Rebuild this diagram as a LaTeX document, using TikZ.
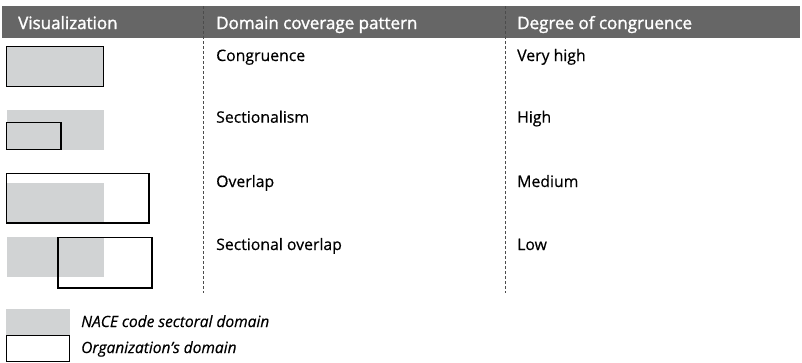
\documentclass[tikz,border=0pt]{standalone}
\usepackage{fontspec}
\setmainfont{Open Sans}[FakeBold=0.4]
\newfontfamily\hdrfont{Open Sans}[FakeBold=1.6]
\definecolor{domgray}{HTML}{D1D3D4}
\definecolor{headgray}{HTML}{666666}
\begin{document}
\begin{tikzpicture}[x=1pt,y=-1pt,
  hdr/.style={anchor=base west,inner sep=0pt,text=white,font=\hdrfont\fontsize{17}{20}\selectfont},
  txt/.style={anchor=base west,inner sep=0pt,font=\fontsize{15.8}{19}\selectfont},
  leg/.style={anchor=base west,inner sep=0pt,font=\fontsize{15.5}{19}\selectfont\itshape},
  org/.style={draw=black,line width=1.4pt},
  divider/.style={draw=black!70,densely dashed,line width=0.5pt}]
\useasboundingbox (0,0) rectangle (802,362);
% header
\fill[headgray] (2,6) rectangle (800,38);
\node[hdr] (h1) at (18,29) {Visualization};
\node[hdr] (h2) at (216,29) {Domain coverage pattern};
\node[hdr] (h3) at (517,29) {Degree of congruence};
% dividers
\coordinate (d1t) at (203,6); \coordinate (d1b) at (203,293);
\coordinate (d2t) at (505,6); \coordinate (d2b) at (505,293);
\draw[divider] (d1t) -- (d1b);
\draw[divider] (d2t) -- (d2b);
% row 1: congruence
\fill[domgray] (6,46) rectangle (104,87);
\draw[org] (6.7,46.7) rectangle (103.3,86.3);
\node[txt] (t1) at (216,61) {Congruence};
\node[txt] (c1) at (517,61) {Very high};
% row 2: sectionalism
\fill[domgray] (7,110) rectangle (104,150);
\draw[org] (6.7,122.5) rectangle (61,149.7);
\node[txt] (t2) at (216,122.7) {Sectionalism};
\node[txt] (c2) at (517,122.7) {High};
% row 3: overlap
\fill[domgray] (7,183) rectangle (104,223);
\draw[org] (6.7,173.5) rectangle (149,223);
\node[txt] (t3) at (216,187) {Overlap};
\node[txt] (c3) at (517,187) {Medium};
% row 4: sectional overlap
\fill[domgray] (7,237) rectangle (104,277);
\draw[org] (58,237.5) rectangle (152,288);
\node[txt] (t4) at (216,250) {Sectional overlap};
\node[txt] (c4) at (517,250) {Low};
% legend
\fill[domgray] (6,309) rectangle (70,335);
\draw[org] (6.7,335.5) rectangle (69.5,361.3);
\node[leg] (l1) at (81,327) {NACE code sectoral domain};
\node[leg] (l2) at (81,353) {Organization’s domain};
\end{tikzpicture}
\end{document}
